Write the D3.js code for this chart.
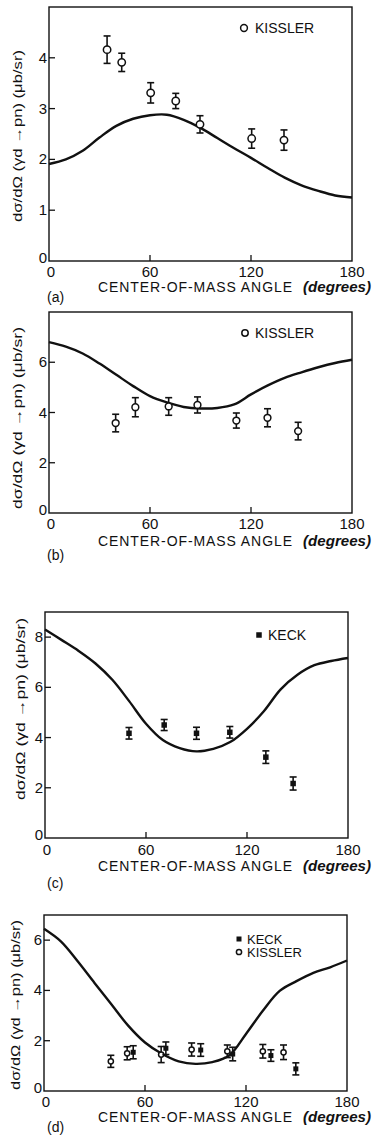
<!DOCTYPE html>
<html>
<head>
<meta charset="utf-8">
<script src="https://cdn.jsdelivr.net/npm/d3@7"></script>
<style>
  html, body { margin: 0; padding: 0; background: #fff; }
  svg { display: block; }
  text { font-family: "Liberation Sans", Arial, sans-serif; fill: #111; }
</style>
</head>
<body>
<svg id="chart" width="379" height="1136"></svg>
<script>
// ---------- DATA ----------
const xTicks = [0, 60, 120, 180];
const curveAngles = [0, 10, 20, 30, 40, 50, 60, 70, 80, 90, 100, 110, 120, 130, 140, 150, 160, 170, 180];

// panel (a)
const curveA = [1.91, 2.0, 2.17, 2.43, 2.66, 2.8, 2.87, 2.88, 2.78, 2.62, 2.42, 2.22, 2.03, 1.83, 1.64, 1.49, 1.38, 1.29, 1.25];
const kisslerA_angle = [34.5, 43.2, 60.4, 75.3, 89.7, 120.4, 139.6];
const kisslerA_value = [4.16, 3.91, 3.31, 3.15, 2.69, 2.41, 2.38];
const kisslerA_err   = [0.27, 0.18, 0.2, 0.15, 0.17, 0.19, 0.2];
const yTicksA = [0, 1, 2, 3, 4];

// panel (b)
const curveB = [6.8, 6.62, 6.35, 5.95, 5.5, 5.05, 4.65, 4.4, 4.22, 4.16, 4.18, 4.32, 4.72, 5.08, 5.38, 5.6, 5.8, 5.97, 6.1];
const kisslerB_angle = [39.6, 51.3, 71.1, 88.2, 111.3, 129.8, 148];
const kisslerB_value = [3.58, 4.21, 4.24, 4.3, 3.68, 3.79, 3.26];
const kisslerB_err   = [0.35, 0.38, 0.35, 0.32, 0.3, 0.36, 0.35];
const yTicksB = [0, 2, 4, 6];

// panel (c)
const curveC = [8.3, 7.88, 7.45, 6.95, 6.3, 5.45, 4.55, 3.9, 3.58, 3.45, 3.55, 3.82, 4.35, 5.05, 5.92, 6.5, 6.88, 7.05, 7.17];
const keckC_angle = [49.9, 70.8, 90, 109.8, 131.2, 147.4];
const keckC_value = [4.17, 4.5, 4.17, 4.21, 3.22, 2.17];
const keckC_err   = [0.23, 0.22, 0.24, 0.23, 0.25, 0.26];
const yTicksC = [0, 2, 4, 6, 8];

// panel (d)
const curveD = [6.45, 5.95, 5.16, 4.3, 3.45, 2.6, 1.93, 1.48, 1.18, 1.08, 1.15, 1.41, 2.27, 3.19, 3.98, 4.37, 4.7, 4.92, 5.19];
const kisslerD_angle = [39.7, 49.4, 69.6, 87.7, 108.9, 130, 142.3];
const kisslerD_value = [1.18, 1.5, 1.45, 1.65, 1.58, 1.58, 1.54];
const kisslerD_err   = [0.24, 0.26, 0.32, 0.26, 0.25, 0.27, 0.29];
const keckD_angle = [53, 72.4, 93.1, 112.1, 134.8, 149.6];
const keckD_value = [1.54, 1.7, 1.63, 1.47, 1.41, 0.88];
const keckD_err   = [0.26, 0.25, 0.25, 0.27, 0.23, 0.24];
const yTicksD = [0, 2, 4, 6];

const xTitle = "CENTER-OF-MASS ANGLE";
const xUnit = "(degrees)";
const yTitle = "dσ/dΩ (γd →pn) (μb/sr)";

// ---------- DRAW ----------
const svg = d3.select("#chart");
const zip = (a, v, e) => a.map((x, i) => ({ x, y: v[i], e: e[i] }));

function drawPanel(p) {
  const g = svg.append("g");
  const x = d3.scaleLinear().domain([0, 180]).range([p.left, p.right]);
  const y = d3.scaleLinear().domain([0, p.ymax]).range([p.bottom, p.top]);

  g.append("rect")
    .attr("x", p.left).attr("y", p.top)
    .attr("width", p.right - p.left).attr("height", p.bottom - p.top)
    .attr("fill", "none").attr("stroke", "#111").attr("stroke-width", 1.4);

  g.selectAll(null).data(xTicks.filter(t => t > 0 && t < 180)).enter().append("line")
    .attr("x1", d => x(d)).attr("x2", d => x(d))
    .attr("y1", p.bottom).attr("y2", p.bottom - 6)
    .attr("stroke", "#111").attr("stroke-width", 1.3);
  g.selectAll(null).data(xTicks).enter().append("text")
    .attr("x", d => x(d) + (d === 0 ? 2 : 0)).attr("y", p.bottom + p.tickDy)
    .attr("text-anchor", "middle").attr("font-size", 15)
    .text(d => d);

  g.selectAll(null).data(p.yTicks.filter(t => t > 0)).enter().append("line")
    .attr("x1", p.left).attr("x2", p.left + 6)
    .attr("y1", d => y(d)).attr("y2", d => y(d))
    .attr("stroke", "#111").attr("stroke-width", 1.3);
  g.selectAll(null).data(p.yTicks).enter().append("text")
    .attr("x", p.left - 2).attr("y", d => y(d) + (d === 0 ? 2 : 5))
    .attr("text-anchor", "end").attr("font-size", 15)
    .text(d => d);

  g.append("text")
    .attr("transform", `translate(${p.ytX},${p.ytY}) rotate(-90)`)
    .attr("text-anchor", "middle").attr("dy", "0.35em")
    .attr("font-size", 12.5)
    .attr("textLength", p.ytLen).attr("lengthAdjust", "spacingAndGlyphs")
    .text(yTitle);

  g.append("text")
    .attr("x", 98).attr("y", p.bottom + p.titleDy)
    .attr("font-size", 14)
    .attr("textLength", 194).attr("lengthAdjust", "spacing")
    .text(xTitle);
  g.append("text")
    .attr("x", 303).attr("y", p.bottom + p.titleDy)
    .attr("font-size", 14).attr("font-style", "italic").attr("font-weight", "bold")
    .attr("textLength", 68).attr("lengthAdjust", "spacingAndGlyphs")
    .text(xUnit);
  g.append("text")
    .attr("x", 47).attr("y", p.bottom + p.letterDy)
    .attr("font-size", 14)
    .text(p.letter);

  const line = d3.line().x(d => x(d[0])).y(d => y(d[1])).curve(d3.curveCatmullRom.alpha(0.5));
  g.append("path")
    .datum(curveAngles.map((a, i) => [a, p.curve[i]]))
    .attr("d", line).attr("fill", "none")
    .attr("stroke", "#111").attr("stroke-width", 2.4);

  p.series.forEach(s => {
    const pts = zip(s.angle, s.value, s.err);
    const cap = 3.5;
    const eb = g.selectAll(null).data(pts).enter().append("g");
    eb.append("line").attr("x1", d => x(d.x)).attr("x2", d => x(d.x))
      .attr("y1", d => y(d.y - d.e)).attr("y2", d => y(d.y + d.e))
      .attr("stroke", "#111").attr("stroke-width", 1.6);
    [-1, 1].forEach(sg => {
      eb.append("line").attr("x1", d => x(d.x) - cap).attr("x2", d => x(d.x) + cap)
        .attr("y1", d => y(d.y + sg * d.e)).attr("y2", d => y(d.y + sg * d.e))
        .attr("stroke", "#111").attr("stroke-width", 1.6);
    });
    if (s.kind === "circle") {
      eb.append("circle").attr("cx", d => x(d.x)).attr("cy", d => y(d.y))
        .attr("r", s.size).attr("fill", "#fff").attr("stroke", "#111").attr("stroke-width", 1.5);
    } else {
      eb.append("rect").attr("x", d => x(d.x) - s.size / 2).attr("y", d => y(d.y) - s.size / 2)
        .attr("width", s.size).attr("height", s.size).attr("fill", "#111");
    }
  });

  p.legend.forEach(l => {
    if (l.kind === "circle") {
      g.append("circle").attr("cx", l.mx).attr("cy", l.my).attr("r", l.size)
        .attr("fill", "#fff").attr("stroke", "#111").attr("stroke-width", 1.5);
    } else {
      g.append("rect").attr("x", l.mx - l.size / 2).attr("y", l.my - l.size / 2)
        .attr("width", l.size).attr("height", l.size).attr("fill", "#111");
    }
    g.append("text").attr("x", l.tx).attr("y", l.my + l.fs * 0.36).attr("font-size", l.fs).text(l.label);
  });
}

drawPanel({
  left: 49, right: 352, top: 7, bottom: 261, ymax: 5, yTicks: yTicksA,
  tickDy: 16, titleDy: 31, letterDy: 41, letter: "(a)",
  ytX: 18, ytY: 136, ytLen: 172,
  curve: curveA,
  series: [{ kind: "circle", size: 3.7, angle: kisslerA_angle, value: kisslerA_value, err: kisslerA_err }],
  legend: [{ kind: "circle", size: 3.4, mx: 244, my: 28, tx: 255, fs: 14, label: "KISSLER" }]
});
drawPanel({
  left: 49, right: 352, top: 312, bottom: 513, ymax: 8, yTicks: yTicksB,
  tickDy: 16, titleDy: 33, letterDy: 47, letter: "(b)",
  ytX: 18, ytY: 418, ytLen: 182,
  curve: curveB,
  series: [{ kind: "circle", size: 3.4, angle: kisslerB_angle, value: kisslerB_value, err: kisslerB_err }],
  legend: [{ kind: "circle", size: 3.2, mx: 245, my: 333, tx: 255, fs: 14, label: "KISSLER" }]
});
drawPanel({
  left: 45, right: 348, top: 612, bottom: 838, ymax: 9, yTicks: yTicksC,
  tickDy: 17, titleDy: 33, letterDy: 50, letter: "(c)",
  ytX: 21, ytY: 709, ytLen: 182,
  curve: curveC,
  series: [{ kind: "rect", size: 5.5, angle: keckC_angle, value: keckC_value, err: keckC_err }],
  legend: [{ kind: "rect", size: 5.5, mx: 259, my: 635, tx: 268, fs: 14, label: "KECK" }]
});
drawPanel({
  left: 44, right: 347, top: 915, bottom: 1091, ymax: 7, yTicks: yTicksD,
  tickDy: 16, titleDy: 31, letterDy: 41, letter: "(d)",
  ytX: 16, ytY: 1005, ytLen: 170,
  curve: curveD,
  series: [
    { kind: "circle", size: 2.6, angle: kisslerD_angle, value: kisslerD_value, err: kisslerD_err },
    { kind: "rect", size: 5, angle: keckD_angle, value: keckD_value, err: keckD_err }
  ],
  legend: [
    { kind: "rect", size: 5, mx: 239, my: 939, tx: 247, fs: 13, label: "KECK" },
    { kind: "circle", size: 2.6, mx: 239, my: 952, tx: 247, fs: 13, label: "KISSLER" }
  ]
});
</script>
</body>
</html>
